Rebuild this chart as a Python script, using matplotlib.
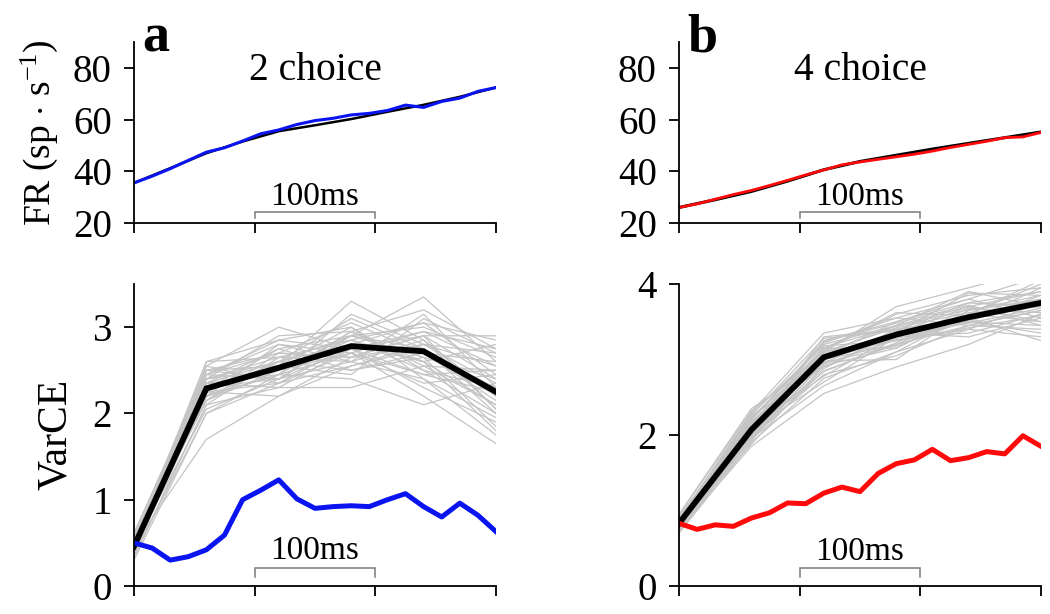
import matplotlib
matplotlib.use("Agg")
import matplotlib.pyplot as plt

plt.rcParams['font.family'] = ['Liberation Serif', 'DejaVu Serif']
plt.rcParams['mathtext.fontset'] = 'custom'
plt.rcParams['mathtext.rm'] = 'Liberation Serif'
plt.rcParams['mathtext.it'] = 'Liberation Serif:italic'

# ---------------- data ----------------
t_fine = [0, 15, 30, 45, 60, 75, 90, 105, 120, 135, 150, 165, 180, 195, 210, 225, 240, 255, 270, 285, 300]
t_fr_black = [0, 30, 60, 90, 120, 150, 180, 210, 240, 270, 300]
t_coarse = [0, 60, 120, 180, 240, 300]

fr2_blue = [35.5, 38.1, 41.0, 44.2, 47.4, 49.1, 51.7, 54.5, 56.0, 58.1, 59.6, 60.5, 61.8, 62.4, 63.5, 65.6, 64.7, 67.0, 68.3, 70.9, 72.4]
fr2_black = [35.5, 41.2, 47.0, 51.5, 55.5, 57.8, 60.2, 63.0, 65.7, 68.8, 72.4]

fr4_red = [26.0, 27.4, 29.2, 31.0, 32.6, 34.5, 36.5, 38.6, 40.5, 42.5, 43.6, 44.6, 45.6, 46.6, 47.8, 49.2, 50.4, 51.6, 53.0, 53.3, 55.0]
fr4_black = [26.0, 29.0, 32.2, 36.2, 40.6, 43.8, 46.2, 48.6, 50.8, 53.0, 55.2]

var2_blue = [0.50, 0.44, 0.30, 0.34, 0.42, 0.59, 1.00, 1.11, 1.23, 1.01, 0.90, 0.92, 0.93, 0.92, 1.00, 1.07, 0.92, 0.80, 0.96, 0.82, 0.63]
var2_black = [0.46, 2.29, 2.53, 2.78, 2.72, 2.25]

var4_red = [0.83, 0.75, 0.81, 0.79, 0.90, 0.97, 1.10, 1.09, 1.23, 1.31, 1.25, 1.49, 1.62, 1.67, 1.81, 1.66, 1.70, 1.78, 1.75, 1.99, 1.85]
var4_black = [0.83, 2.07, 3.03, 3.33, 3.56, 3.75]

var2_shuffles = [
    [0.45, 2.30, 2.55, 2.80, 2.70, 2.30],
    [0.40, 2.20, 2.45, 2.95, 2.60, 2.10],
    [0.55, 2.45, 2.70, 2.65, 2.90, 2.40],
    [0.35, 2.10, 2.30, 2.75, 2.95, 2.55],
    [0.50, 2.60, 2.85, 3.00, 2.50, 2.00],
    [0.42, 2.25, 2.60, 3.10, 2.75, 2.20],
    [0.48, 1.70, 2.20, 2.55, 2.80, 2.70],
    [0.60, 2.50, 2.40, 2.60, 3.15, 2.30],
    [0.38, 2.35, 2.75, 2.50, 2.65, 1.85],
    [0.52, 2.15, 2.50, 2.90, 3.35, 2.60],
    [0.30, 2.00, 2.35, 2.70, 2.20, 1.65],
    [0.46, 2.40, 2.65, 2.85, 3.05, 2.85],
    [0.44, 2.55, 3.00, 2.75, 2.45, 2.25],
    [0.50, 2.20, 2.45, 2.40, 2.10, 2.35],
    [0.58, 2.30, 2.55, 3.30, 2.85, 2.05],
    [0.36, 2.45, 2.80, 2.60, 2.40, 1.95],
    [0.47, 2.05, 2.40, 2.95, 3.20, 2.75],
    [0.41, 2.35, 2.30, 2.30, 2.55, 2.50],
    [0.54, 2.50, 2.70, 3.05, 2.70, 2.15],
    [0.43, 2.25, 2.20, 2.65, 2.90, 2.90],
    [0.49, 2.15, 2.60, 2.80, 2.60, 1.80],
    [0.39, 2.40, 2.50, 2.70, 2.35, 2.45],
    [0.56, 2.28, 2.75, 2.90, 3.00, 2.65],
    [0.45, 2.55, 2.35, 2.55, 2.75, 2.00],
    [0.33, 2.10, 2.65, 2.85, 2.50, 2.30],
    [0.51, 2.35, 2.45, 3.15, 2.80, 2.55],
    [0.47, 2.20, 2.55, 2.45, 3.10, 2.70],
    [0.62, 2.45, 2.85, 2.75, 2.30, 1.90],
    [0.40, 2.30, 2.40, 2.90, 2.65, 2.40],
    [0.46, 2.60, 2.65, 2.60, 2.85, 2.20],
    [0.37, 2.00, 2.45, 2.70, 2.95, 2.75],
    [0.53, 2.40, 2.90, 2.95, 2.55, 2.10],
    [0.44, 2.25, 2.35, 2.80, 3.05, 2.45],
    [0.50, 2.35, 2.60, 2.50, 2.70, 2.60],
    [0.42, 2.50, 2.55, 3.00, 2.40, 1.75],
    [0.55, 2.15, 2.70, 2.65, 2.80, 2.35],
    [0.48, 2.30, 2.50, 2.85, 2.60, 2.80],
    [0.35, 2.45, 2.40, 2.75, 2.90, 2.05],
    [0.57, 2.20, 2.80, 2.70, 2.45, 2.50],
    [0.43, 2.40, 2.60, 2.90, 2.75, 2.25],
]

var4_shuffles = [
    [0.83, 2.05, 3.00, 3.30, 3.55, 3.75],
    [0.78, 1.95, 2.85, 3.20, 3.45, 3.65],
    [0.90, 2.20, 3.20, 3.45, 3.70, 3.90],
    [0.70, 1.90, 2.75, 3.10, 3.60, 3.50],
    [0.88, 2.30, 3.35, 3.55, 3.80, 4.10],
    [0.80, 2.00, 3.05, 3.25, 3.40, 3.30],
    [0.75, 1.85, 2.55, 2.90, 3.20, 3.60],
    [0.92, 2.15, 3.10, 3.70, 3.95, 4.20],
    [0.85, 2.10, 2.95, 3.40, 3.50, 3.45],
    [0.72, 1.95, 3.15, 3.15, 3.65, 3.85],
    [0.86, 2.25, 2.90, 3.35, 3.30, 3.55],
    [0.79, 2.05, 3.25, 3.50, 3.75, 3.70],
    [0.95, 2.35, 3.00, 3.20, 3.60, 4.05],
    [0.82, 1.98, 2.80, 3.05, 3.45, 3.40],
    [0.77, 2.12, 3.12, 3.60, 3.85, 3.95],
    [0.89, 2.08, 2.70, 3.30, 3.35, 3.60],
    [0.74, 2.02, 3.30, 3.40, 3.55, 3.25],
    [0.84, 2.18, 2.98, 3.00, 3.65, 3.80],
    [0.81, 1.92, 3.08, 3.45, 3.90, 3.70],
    [0.87, 2.28, 3.18, 3.25, 3.50, 3.85],
    [0.76, 2.00, 2.88, 3.35, 3.70, 3.50],
    [0.91, 2.22, 3.22, 3.55, 3.45, 3.65],
    [0.80, 1.88, 2.92, 3.15, 3.60, 4.00],
    [0.83, 2.15, 3.05, 3.50, 3.80, 3.55],
    [0.73, 1.96, 2.65, 3.10, 3.40, 3.75],
    [0.88, 2.26, 3.28, 3.38, 3.75, 3.90],
    [0.79, 2.04, 3.00, 3.28, 3.50, 3.35],
    [0.86, 2.14, 3.14, 3.62, 3.58, 3.80],
    [0.78, 2.06, 2.84, 3.22, 3.68, 3.62],
    [0.94, 2.32, 3.10, 3.42, 3.62, 3.70],
    [0.81, 1.94, 2.96, 3.18, 3.52, 3.95],
    [0.85, 2.20, 3.24, 3.48, 3.72, 3.45],
    [0.75, 2.10, 2.78, 3.32, 3.48, 3.68],
    [0.90, 2.24, 3.06, 3.36, 3.88, 3.85],
    [0.82, 2.00, 2.94, 3.26, 3.42, 3.58],
    [0.77, 2.16, 3.16, 3.44, 3.66, 3.78],
]

x_ticks = [0, 100, 200, 300]
fr_ticks = [20, 40, 60, 80]
var2_ticks = [0, 1, 2, 3]
var4_ticks = [0, 2, 4]
panel_titles = ["2 choice", "4 choice"]
panel_letters = ["a", "b"]
scale_label = "100ms"

# ---------------- figure ----------------
W, H = 1050, 614
fig = plt.figure(figsize=(W / 100, H / 100), dpi=100)

def rect(x0, x1, ytop, ybot):
    return [x0 / W, 1 - ybot / H, (x1 - x0) / W, (ybot - ytop) / H]

ax_a_top = fig.add_axes(rect(134, 496, 42, 223))
ax_b_top = fig.add_axes(rect(679, 1041, 42, 223))
ax_a_bot = fig.add_axes(rect(134, 496, 284, 586))
ax_b_bot = fig.add_axes(rect(679, 1041, 284, 586))

TICK_FS = 28
GRAY = '#c4c4c4'

def style(ax, ylim, yticks):
    ax.set_xlim(0, 300)
    ax.set_ylim(*ylim)
    ax.set_xticks(x_ticks)
    ax.set_xticklabels([])
    ax.set_yticks(yticks)
    ax.set_yticklabels([str(v) for v in yticks], fontsize=TICK_FS)
    for s in ['top', 'right']:
        ax.spines[s].set_visible(False)
    for s in ['left', 'bottom']:
        ax.spines[s].set_linewidth(1.3)
    ax.tick_params(direction='out', length=7.5, width=1.3)
    ax.tick_params(axis='y', pad=8.5)

def scale_bar(ax, ybar, ytick, ytext):
    ax.plot([100, 100, 200, 200], [ytick, ybar, ybar, ytick], color='#7a7a7a', lw=1.1,
            solid_joinstyle='miter', clip_on=False)
    ax.text(150, ytext, scale_label, ha='center', va='baseline', fontsize=24)

# Top panels
style(ax_a_top, (20, 90), fr_ticks)
style(ax_b_top, (20, 90), fr_ticks)
ax_a_top.plot(t_fr_black, fr2_black, color='black', lw=1.8)
ax_a_top.plot(t_fine, fr2_blue, color='#0a14f0', lw=2.2)
ax_b_top.plot(t_fr_black, fr4_black, color='black', lw=2.2)
ax_b_top.plot(t_fine, fr4_red, color='#ff0a0a', lw=2.0)

for ax, title in zip([ax_a_top, ax_b_top], panel_titles):
    ax.text(150, 75.2, title, ha='center', va='baseline', fontsize=28.5)

scale_bar(ax_a_top, 24.2, 21.9, 26.8)
scale_bar(ax_b_top, 24.2, 21.9, 26.8)

# Bottom panels
style(ax_a_bot, (0, 3.5), var2_ticks)
style(ax_b_bot, (0, 4.0), var4_ticks)
for s in var2_shuffles:
    ax_a_bot.plot(t_coarse, s, color=GRAY, lw=0.9)
ax_a_bot.plot(t_coarse, var2_black, color='black', lw=4.2, solid_joinstyle='miter')
ax_a_bot.plot(t_fine, var2_blue, color='#0a14f0', lw=3.6)

for s in var4_shuffles:
    ax_b_bot.plot(t_coarse, s, color=GRAY, lw=0.9)
ax_b_bot.plot(t_coarse, var4_black, color='black', lw=4.2, solid_joinstyle='miter')
ax_b_bot.plot(t_fine, var4_red, color='#ff0a0a', lw=3.6)

scale_bar(ax_a_bot, 0.21, 0.10, 0.31)
scale_bar(ax_b_bot, 0.24, 0.12, 0.35)

# Panel letters
fig.text(142 / W, 1 - 52 / H, panel_letters[0], fontsize=39, fontweight='bold', va='baseline')
fig.text(687 / W, 1 - 52 / H, panel_letters[1], fontsize=39, fontweight='bold', va='baseline')

# Y labels
fig.text(39 / W, 1 - 133 / H, 'FR (sp $\\cdot$ s$^{-1}$)', rotation=90, ha='center', va='center', fontsize=27)
fig.text(56 / W, 1 - 434 / H, 'VarCE', rotation=90, ha='center', va='center', fontsize=30)

fig.savefig('out.png', dpi=100)
